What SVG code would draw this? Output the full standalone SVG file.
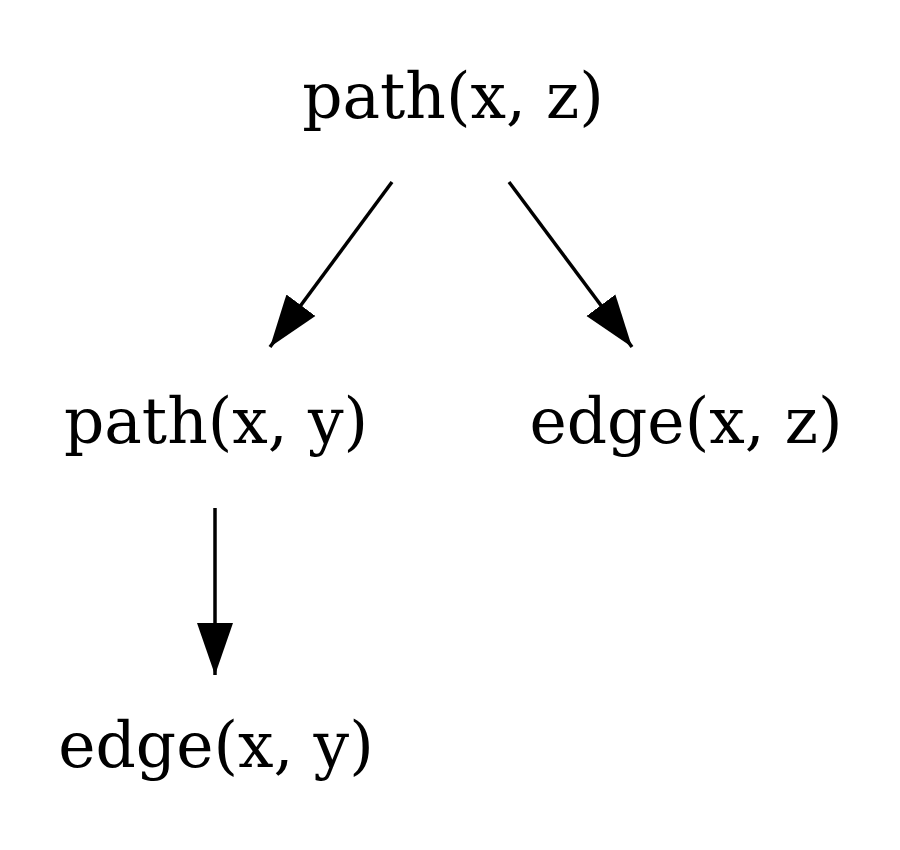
<svg xmlns="http://www.w3.org/2000/svg" width="900" height="850" viewBox="0 0 900 850">
<style>
text{font-family:"DejaVu Serif",serif;font-size:63px;fill:#000;text-anchor:middle}
.e{stroke:#000;stroke-width:3.5;fill:none}
</style>
<defs><marker id="a" markerUnits="userSpaceOnUse" markerWidth="52" markerHeight="40" refX="52" refY="20" orient="auto" viewBox="0 0 52 40"><path d="M0,2 L52,20 L0,38 Z" fill="#000"/></marker></defs>
<rect width="900" height="850" fill="#fff"/>
<g id="n1"><text x="453" y="118">path(x, z)</text></g>
<g id="n2"><text x="216" y="443">path(x, y)</text></g>
<g id="n3"><text x="686" y="443">edge(x, z)</text></g>
<g id="n4"><text x="216" y="767">edge(x, y)</text></g>
<g id="edges">
<line class="e" x1="392" y1="182" x2="270" y2="347" marker-end="url(#a)"/>
<line class="e" x1="509" y1="182" x2="632" y2="347" marker-end="url(#a)"/>
<line class="e" x1="215" y1="508" x2="215" y2="675" marker-end="url(#a)"/>
</g>
</svg>
